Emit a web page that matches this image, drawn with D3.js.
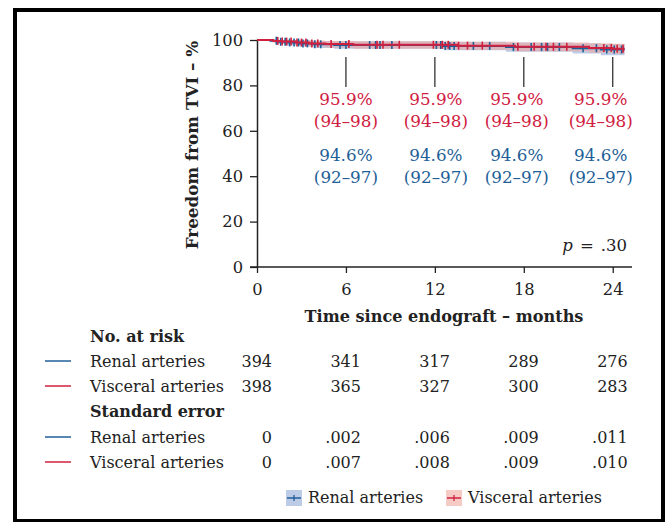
<!DOCTYPE html>
<html><head><meta charset="utf-8">
<script src="https://cdn.jsdelivr.net/npm/d3@7"></script>
<style>
body{margin:0;background:#fff;}
text{font-family:"DejaVu Serif",serif;fill:#222;}
</style></head>
<body><svg id="c" width="666" height="522"></svg>
<script>
// ---- data ----
const xTicks = [0, 6, 12, 18, 24];
const yTicks = [0, 20, 40, 60, 80, 100];
// [time, survival %, lower CI, upper CI]
const renalSteps = [[0,100,100,100],[0.9,99.7,99.0,100],[1.4,99.2,98.2,100],[2.0,98.9,97.6,100],[2.9,98.5,97.0,99.9],[3.8,98.1,96.5,99.6],[5.2,97.8,96.1,99.4],[12.6,97.4,95.5,99.2],[16.8,96.9,94.8,98.9],[21.3,96.4,94.0,98.6],[23.2,95.8,93.3,98.2]];
const visceralSteps = [[0,100,100,100],[1.1,99.6,98.9,100],[1.7,99.3,98.4,100],[2.6,98.9,97.7,100],[3.5,98.5,97.1,99.8],[4.6,98.2,96.7,99.6],[6.5,97.9,96.2,99.5],[13.5,97.5,95.7,99.2],[17.4,97.0,95.0,98.9],[22.4,96.5,94.4,98.6],[24.0,96.1,93.9,98.3]];
const renalEnd = 24.8, visceralEnd = 24.8;
const renalCensor = [1.3,1.6,1.9,2.2,2.5,2.8,3.1,3.4,3.9,4.3,5.6,6.0,7.6,8.0,8.3,9.1,12.1,12.4,12.7,13.0,13.3,14.6,15.7,17.3,18.5,19.2,19.6,20.4,22.0,22.9,23.6,24.1,24.6];
const visceralCensor = [1.4,1.7,2.0,2.3,2.7,3.0,3.3,3.7,4.1,5.0,6.2,8.1,8.5,9.6,11.9,12.5,12.9,13.6,14.2,15.2,17.6,18.7,19.5,20.0,20.9,23.4,23.9,24.3,24.7];
const annotTimes = [6, 12, 18, 24];
const visceralPct = ["95.9%","95.9%","95.9%","95.9%"];
const visceralCI = ["(94–98)","(94–98)","(94–98)","(94–98)"];
const renalPct = ["94.6%","94.6%","94.6%","94.6%"];
const renalCI = ["(92–97)","(92–97)","(92–97)","(92–97)"];
const riskRenal = ["394","341","317","289","276"];
const riskVisceral = ["398","365","327","300","283"];
const seRenal = ["0",".002",".006",".009",".011"];
const seVisceral = ["0",".007",".008",".009",".010"];
const seriesNames = ["Renal arteries","Visceral arteries"];

// ---- styles ----
const BLUE="#1f5f98", RED="#d0203f", BLUEBAND="#8fa8d6", REDBAND="#f0a69f";
const svg = d3.select("#c");
svg.append("rect").attr("x",15).attr("y",10).attr("width",648).attr("height",511)
  .attr("fill","none").attr("stroke","#000").attr("stroke-width",4);

const x = d3.scaleLinear().domain([0,25.3]).range([257,632]);
const y = d3.scaleLinear().domain([0,100]).range([267,40]);

// axes
const gx = svg.append("g").attr("transform","translate(0,267)")
  .call(d3.axisBottom(x).tickValues(xTicks).tickSize(6).tickSizeOuter(0).tickPadding(7));
const gy = svg.append("g").attr("transform","translate(257,0)")
  .call(d3.axisLeft(y).tickValues(yTicks).tickSize(7).tickSizeOuter(0).tickPadding(7));
[gx,gy].forEach(g=>{
  g.select(".domain").attr("stroke","#222").attr("stroke-width",1.5);
  g.selectAll(".tick line").attr("stroke","#222").attr("stroke-width",1.3);
  g.selectAll(".tick text").attr("font-family","DejaVu Serif").attr("font-size",16.3).attr("fill","#222");
});
gx.select(".domain").attr("d","M250,0H632");
gx.selectAll(".tick text").attr("dy","0.95em");

svg.append("text").attr("x",444).attr("y",322).attr("text-anchor","middle")
  .attr("font-weight","bold").attr("font-size",16.1).text("Time since endograft – months");
svg.append("text").attr("transform","translate(198,145) rotate(-90)").attr("text-anchor","middle")
  .attr("font-weight","bold").attr("font-size",16.8).text("Freedom from TVI – %");

// curves
function drawSeries(steps, endT, censor, color, band){
  const pts = steps.map(d=>({t:d[0],s:d[1],lo:d[2],hi:d[3]}));
  const last = pts[pts.length-1];
  const full = pts.concat([{t:endT,s:last.s,lo:last.lo,hi:last.hi}]);
  const area = d3.area().curve(d3.curveStepAfter).x(d=>x(d.t)).y0(d=>y(d.lo)).y1(d=>y(d.hi));
  svg.append("path").datum(full).attr("d",area).attr("fill",band).attr("opacity",0.6);
  return {full, censor, color};
}
const sR = drawSeries(renalSteps, renalEnd, renalCensor, BLUE, BLUEBAND);
const sV = drawSeries(visceralSteps, visceralEnd, visceralCensor, RED, REDBAND);
function survAt(full,t){let s=full[0].s;for(const d of full){if(d.t<=t)s=d.s;}return s;}
[sR,sV].forEach(S=>{
  const line = d3.line().curve(d3.curveStepAfter).x(d=>x(d.t)).y(d=>y(d.s));
  svg.append("path").datum(S.full).attr("d",line).attr("fill","none").attr("stroke",S.color).attr("stroke-width",2);
  svg.append("g").selectAll("line").data(S.censor).join("line")
    .attr("x1",d=>x(d)).attr("x2",d=>x(d))
    .attr("y1",d=>y(survAt(S.full,d))-4).attr("y2",d=>y(survAt(S.full,d))+4)
    .attr("stroke",S.color).attr("stroke-width",1.6);
});

// annotations
const labelShift = [0,1,-7,-12];
annotTimes.forEach((t,i)=>{
  svg.append("line").attr("x1",x(t)).attr("x2",x(t)).attr("y1",57).attr("y2",87)
    .attr("stroke","#333").attr("stroke-width",1.3);
  const cx = x(t)+labelShift[i];
  [[visceralPct[i],105,RED],[visceralCI[i],127,RED],[renalPct[i],161,BLUE],[renalCI[i],183,BLUE]].forEach(a=>{
    svg.append("text").attr("x",cx).attr("y",a[1]).attr("text-anchor","middle")
      .attr("font-size",16.8).style("fill",a[2]).text(a[0]);
  });
});
svg.append("text").attr("x",627).attr("y",251).attr("text-anchor","end").attr("font-size",16.5)
  .html('<tspan font-style="italic">p</tspan><tspan dx="7">=</tspan><tspan dx="7">.30</tspan>');

// risk table
const tableRows = [
  {label:"No. at risk",bold:true,y:342},
  {label:seriesNames[0],vals:riskRenal,color:BLUE,y:367},
  {label:seriesNames[1],vals:riskVisceral,color:RED,y:392},
  {label:"Standard error",bold:true,y:417},
  {label:seriesNames[0],vals:seRenal,color:BLUE,y:443},
  {label:seriesNames[1],vals:seVisceral,color:RED,y:468}
];
tableRows.forEach(r=>{
  svg.append("text").attr("x",90).attr("y",r.y).attr("font-size",16)
    .attr("font-weight",r.bold?"bold":null).text(r.label);
  if(r.vals){
    svg.append("line").attr("x1",45).attr("x2",71).attr("y1",r.y-6).attr("y2",r.y-6)
      .attr("stroke",r.color).attr("stroke-width",1.5);
    r.vals.forEach((v,i)=>{
      svg.append("text").attr("x",x(xTicks[i])+15).attr("y",r.y).attr("text-anchor","end")
        .attr("font-size",16).text(v);
    });
  }
});

// legend
const legX = [286, 446];
seriesNames.forEach((n,i)=>{
  const c = i===0?BLUE:RED, b = i===0?BLUEBAND:REDBAND;
  const g = svg.append("g").attr("transform",`translate(${legX[i]},490)`);
  g.append("rect").attr("width",16).attr("height",16).attr("fill",b).attr("opacity",0.6);
  g.append("line").attr("x1",1).attr("x2",15).attr("y1",8).attr("y2",8).attr("stroke",c).attr("stroke-width",1.5);
  g.append("line").attr("x1",8).attr("x2",8).attr("y1",5).attr("y2",11).attr("stroke",c).attr("stroke-width",1.3);
  g.append("text").attr("x",22).attr("y",13).attr("font-size",16).text(n);
});
</script></body></html>
